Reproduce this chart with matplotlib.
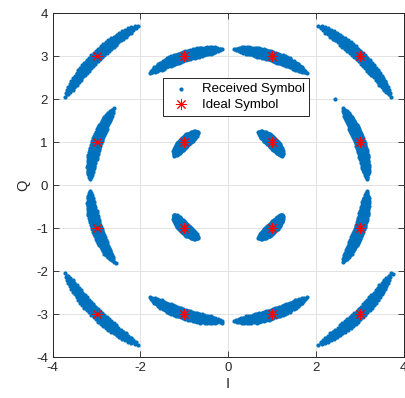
import numpy as np
import matplotlib.pyplot as plt

plt.rcParams['font.family'] = ['Liberation Sans', 'DejaVu Sans']
plt.rcParams['axes.unicode_minus'] = False

# 16-QAM ideal constellation levels
levels_i = [-3, -1, 1, 3]
levels_q = [-3, -1, 1, 3]

# phase rotation seen on each received cluster (degrees) and the radial
# half-width of the cluster at that rotation
phase_deg = [-16, -15, -14, -13, -12, -11, -10, -9, -8, -7, -6, -5, -4, -3, -2, -1, 0,
             1, 2, 3, 4, 5, 6, 7, 8, 9, 10, 11, 12, 13, 14, 15, 16]
half_width = [0.01, 0.03, 0.045, 0.06, 0.07, 0.08, 0.085, 0.09, 0.095, 0.10, 0.10, 0.10,
              0.10, 0.10, 0.10, 0.10, 0.10, 0.10, 0.10, 0.10, 0.10, 0.10, 0.10, 0.10,
              0.095, 0.09, 0.085, 0.08, 0.07, 0.06, 0.045, 0.03, 0.01]
radial_offset = [-0.10, -0.08, -0.06, -0.04, -0.02, 0.0, 0.02, 0.04, 0.06, 0.08, 0.10]

# a few stray received samples
stray_i = [2.43, 3.76, -2.56, -0.13]
stray_q = [2.00, -2.07, -1.81, -3.20]

ideal = np.array([complex(i, q) for i in levels_i for q in levels_q])

rx = []
for s in ideal:
    r0 = abs(s)
    a0 = np.angle(s)
    for ph, hw in zip(phase_deg, half_width):
        for dr in radial_offset:
            if abs(dr) <= hw + 1e-9:
                rx.append((r0 + dr) * np.exp(1j * (a0 + np.deg2rad(ph))))
rx = np.array(rx + [complex(a, b) for a, b in zip(stray_i, stray_q)])

fig = plt.figure(figsize=(4.06, 3.98), dpi=100)
ax = fig.add_axes([0.130, 0.103, 0.864, 0.864])

ax.scatter(rx.real, rx.imag, s=9, color='#0072BD', linewidths=0,
           label='Received Symbol', zorder=2)
ax.plot(ideal.real, ideal.imag, linestyle='none', marker=(8, 2, 0), markersize=8,
        color='red', markeredgewidth=0.7, label='Ideal Symbol', zorder=3)

ax.set_xlim(-4, 4)
ax.set_ylim(-4, 4)
ax.set_xticks([-4, -2, 0, 2, 4])
ax.set_yticks([-4, -3, -2, -1, 0, 1, 2, 3, 4])
ax.grid(True, color='#e3e3e3', linewidth=0.7, zorder=0)
ax.set_axisbelow(True)
ax.tick_params(direction='in', top=True, right=True, length=4, width=0.6,
               colors='#262626', labelsize=9.5)
for sp in ax.spines.values():
    sp.set_color('#262626')
    sp.set_linewidth(0.7)

ax.set_xlabel('I', fontsize=10.5, color='#262626', labelpad=2)
ax.set_ylabel('Q', fontsize=10.5, color='#262626', labelpad=4)

leg = ax.legend(loc='upper left', bbox_to_anchor=(0.314, 0.811), borderaxespad=0,
                fontsize=9.5, fancybox=False, framealpha=1, edgecolor='#262626',
                handletextpad=0.6, borderpad=0.35, labelspacing=0.3,
                markerscale=1.0, handlelength=2.0)
leg.get_frame().set_linewidth(0.7)

fig.savefig('out.png', dpi=100)
